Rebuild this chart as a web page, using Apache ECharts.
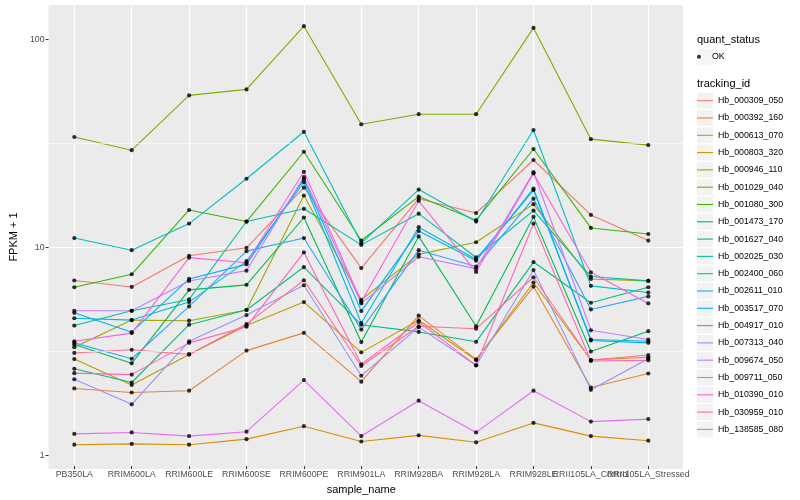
<!DOCTYPE html>
<html><head><meta charset="utf-8">
<script src="https://cdn.jsdelivr.net/npm/echarts/dist/echarts.min.js"></script>
<style>html,body{margin:0;padding:0;background:#fff}#c{width:800px;height:500px}</style>
</head><body><div id="c"></div>
<script>
const categories = ['PB350LA','RRIM600LA','RRIM600LE','RRIM600SE','RRIM600PE','RRIM901LA','RRIM928BA','RRIM928LA','RRIM928LE','RRII105LA_Control','RRII105LA_Stressed'];
const trackingIds = ['Hb_000309_050','Hb_000392_160','Hb_000613_070','Hb_000803_320','Hb_000946_110','Hb_001029_040','Hb_001080_300','Hb_001473_170','Hb_001627_040','Hb_002025_030','Hb_002400_060','Hb_002611_010','Hb_003517_070','Hb_004917_010','Hb_007313_040','Hb_009674_050','Hb_009711_050','Hb_010390_010','Hb_030959_010','Hb_138585_080'];
const colors = ['#F8766D','#EA8331','#D89000','#C09B00','#A3A500','#7CAE00','#39B600','#00BB4E','#00BF7D','#00C1A3','#00BFC4','#00BAE0','#00B0F6','#35A2FF','#9590FF','#C77CFF','#E76BF3','#FA62DB','#FF62BC','#FF6C91'];

const hb_000309_050 = [6.79, 6.32, 8.95, 9.78, 19.1, 7.80, 16.9, 14.4, 26.0, 14.1, 10.6];
const hb_000392_160 = [2.04, 1.95, 1.99, 3.11, 3.79, 2.20, 4.59, 2.82, 6.35, 2.06, 2.41];
const hb_000613_070 = [1.09, 1.10, 1.09, 1.16, 1.34, 1.13, 1.21, 1.12, 1.39, 1.20, 1.14];
const hb_000803_320 = [2.83, 2.12, 2.98, 4.11, 5.34, 3.05, 4.36, 2.80, 6.64, 2.80, 2.89];
const hb_000946_110 = [3.23, 4.37, 4.34, 4.89, 17.5, 5.48, 9.09, 10.4, 15.9, 6.91, 6.76];
const hb_001029_040 = [33.6, 29.0, 53.4, 57.1, 115.5, 38.7, 43.3, 43.3, 113.3, 32.8, 30.7];
const hb_001080_300 = [6.30, 7.28, 14.9, 13.1, 28.5, 10.6, 17.3, 13.3, 29.4, 12.2, 11.4];
const hb_001473_170 = [3.33, 2.70, 6.12, 6.47, 13.7, 3.42, 11.1, 4.08, 13.8, 3.08, 3.86];
const hb_001627_040 = [2.54, 2.18, 4.15, 4.89, 7.89, 4.15, 3.83, 3.43, 8.34, 5.30, 6.30];
const hb_002025_030 = [4.11, 4.85, 5.50, 13.1, 15.1, 10.1, 14.3, 8.78, 14.8, 7.10, 6.76];
const hb_002400_060 = [10.9, 9.52, 12.8, 21.1, 35.6, 10.3, 18.7, 13.1, 36.3, 6.40, 5.94];
const hb_002611_010 = [4.46, 4.37, 5.34, 8.43, 20.3, 4.23, 12.3, 8.60, 18.6, 3.52, 3.45];
const hb_003517_070 = [4.74, 3.82, 6.91, 8.13, 21.0, 4.83, 11.8, 8.47, 18.9, 3.48, 3.39];
const hb_004917_010 = [3.39, 2.84, 5.09, 9.42, 10.9, 3.93, 9.52, 7.93, 16.9, 4.92, 5.69];
const hb_007313_040 = [2.26, 1.71, 3.45, 4.62, 6.44, 2.35, 4.04, 2.64, 7.63, 2.01, 2.84];
const hb_009674_050 = [4.85, 4.85, 6.76, 7.58, 21.5, 5.26, 8.85, 7.75, 22.7, 3.90, 3.52];
const hb_009711_050 = [1.23, 1.25, 1.20, 1.26, 2.24, 1.20, 1.78, 1.25, 1.99, 1.41, 1.45];
const hb_010390_010 = [3.45, 3.78, 8.76, 8.28, 22.8, 5.38, 16.5, 7.47, 22.4, 7.44, 5.26];
const hb_030959_010 = [2.42, 2.38, 3.39, 4.06, 9.29, 2.67, 4.28, 2.64, 12.8, 2.77, 2.79];
const hb_138585_080 = [3.03, 3.14, 2.98, 4.18, 6.81, 2.62, 4.08, 3.97, 7.04, 2.80, 2.96];

const seriesValues = [hb_000309_050, hb_000392_160, hb_000613_070, hb_000803_320, hb_000946_110, hb_001029_040, hb_001080_300, hb_001473_170, hb_001627_040, hb_002025_030, hb_002400_060, hb_002611_010, hb_003517_070, hb_004917_010, hb_007313_040, hb_009674_050, hb_009711_050, hb_010390_010, hb_030959_010, hb_138585_080];
const yTickValues = [1, 10, 100];
const minorBreaks = [3.1623, 31.623];
const statusName = 'OK';
const yMin = 0.859, yMax = 146.2;

const FONT = 'Liberation Sans, Arial, Helvetica, sans-serif';
const chart = echarts.init(document.getElementById('c'), null, {renderer: 'canvas'});

const series = [];
// dummy series to carry minor grid lines across the whole panel
series.push({
  type: 'line', xAxisIndex: 0, yAxisIndex: 0, data: [], z: 1, silent: true,
  markLine: {
    silent: true, symbol: 'none', animation: false,
    label: {show: false},
    lineStyle: {color: '#FFFFFF', width: 0.6, type: 'solid'},
    emphasis: {disabled: true},
    data: minorBreaks.map(v => ({yAxis: v}))
  }
});
trackingIds.forEach((id, i) => {
  series.push({
    name: id, type: 'line', xAxisIndex: 1, yAxisIndex: 1,
    data: seriesValues[i], showSymbol: false, symbol: 'none',
    lineStyle: {width: 1.1, color: colors[i]},
    itemStyle: {color: colors[i]},
    z: 3, emphasis: {disabled: true}
  });
});
const okPoints = [];
seriesValues.forEach(arr => arr.forEach((v, j) => okPoints.push([categories[j], v])));
series.push({
  name: statusName, type: 'scatter', xAxisIndex: 1, yAxisIndex: 1,
  data: okPoints, symbol: 'circle', symbolSize: 4.2,
  itemStyle: {color: '#000000'}, z: 5, emphasis: {disabled: true}
});

const legendText = {fontFamily: FONT, fontSize: 8.8, color: '#000', lineHeight: 17};

chart.setOption({
  animation: false,
  backgroundColor: '#FFFFFF',
  textStyle: {fontFamily: FONT},
  title: [
    {text: 'quant_status', left: 697, top: 34.5, padding: 0, textStyle: {fontFamily: FONT, fontSize: 11, fontWeight: 'normal', color: '#000'}},
    {text: 'tracking_id', left: 697, top: 78, padding: 0, textStyle: {fontFamily: FONT, fontSize: 11, fontWeight: 'normal', color: '#000'}}
  ],
  grid: [
    {left: 40, top: 5, width: 643, height: 464, show: true, backgroundColor: '#EBEBEB', borderWidth: 0, containLabel: false},
    {left: 45.6, top: 5, width: 631.4, height: 464, show: false, containLabel: false}
  ],
  xAxis: [
    {type: 'value', gridIndex: 0, show: false, min: 0, max: 1, splitLine: {show: false}},
    {type: 'category', gridIndex: 1, data: categories, boundaryGap: true,
     axisLine: {show: false},
     axisTick: {show: true, alignWithLabel: true, length: 3, lineStyle: {color: '#333333', width: 1}},
     axisLabel: {interval: 0, color: '#4D4D4D', fontSize: 8.8, fontFamily: FONT, margin: 4},
     splitLine: {show: true, alignWithLabel: true, interval: 0, lineStyle: {color: '#FFFFFF', width: 1.2}},
     name: 'sample_name', nameLocation: 'middle', nameGap: 13,
     nameTextStyle: {fontFamily: FONT, fontSize: 11, color: '#000'}}
  ],
  yAxis: [
    {type: 'log', logBase: 10, gridIndex: 0, min: yMin, max: yMax,
     axisLine: {show: false},
     axisTick: {show: true, customValues: yTickValues, length: 3, lineStyle: {color: '#333333', width: 1}},
     axisLabel: {customValues: yTickValues, color: '#4D4D4D', fontSize: 8.8, fontFamily: FONT, margin: 4,
                 formatter: v => (yTickValues.indexOf(Math.round(v)) >= 0 && Math.abs(v - Math.round(v)) < 1e-6) ? String(Math.round(v)) : ''},
     splitLine: {show: true, showMinLine: false, showMaxLine: false, lineStyle: {color: '#FFFFFF', width: 1.2}},
     name: 'FPKM + 1', nameLocation: 'middle', nameGap: 22, nameRotate: 90,
     nameTextStyle: {fontFamily: FONT, fontSize: 11, color: '#000'}},
    {type: 'log', logBase: 10, gridIndex: 1, min: yMin, max: yMax, show: false,
     splitLine: {show: false}, axisLabel: {show: false}, axisTick: {show: false}, axisLine: {show: false}}
  ],
  legend: [
    {data: [statusName], orient: 'vertical', left: 697, top: 48.2, padding: 0, itemGap: 0.3,
     icon: 'rect', itemWidth: 16, itemHeight: 16, itemStyle: {color: '#F2F2F2', borderWidth: 0},
     textStyle: Object.assign({}, legendText, {color: 'rgba(0,0,0,0)'}), selectedMode: false, z: 3},
    {data: [statusName], orient: 'vertical', left: 697, top: 48.2, padding: 0, itemGap: 0.3,
     icon: 'circle', itemWidth: 16, itemHeight: 4, itemStyle: {color: '#000000'},
     textStyle: legendText, selectedMode: false, z: 5},
    {data: trackingIds, orient: 'vertical', left: 697, top: 92.2, padding: 0, itemGap: 0.3,
     icon: 'rect', itemWidth: 16, itemHeight: 16, itemStyle: {color: '#F2F2F2', borderWidth: 0},
     textStyle: Object.assign({}, legendText, {color: 'rgba(0,0,0,0)'}), selectedMode: false, z: 3},
    {data: trackingIds, orient: 'vertical', left: 697, top: 92.2, padding: 0, itemGap: 0.3,
     icon: 'rect', itemWidth: 16, itemHeight: 1.1,
     textStyle: legendText, selectedMode: false, z: 5}
  ],
  series: series
});
</script></body></html>
